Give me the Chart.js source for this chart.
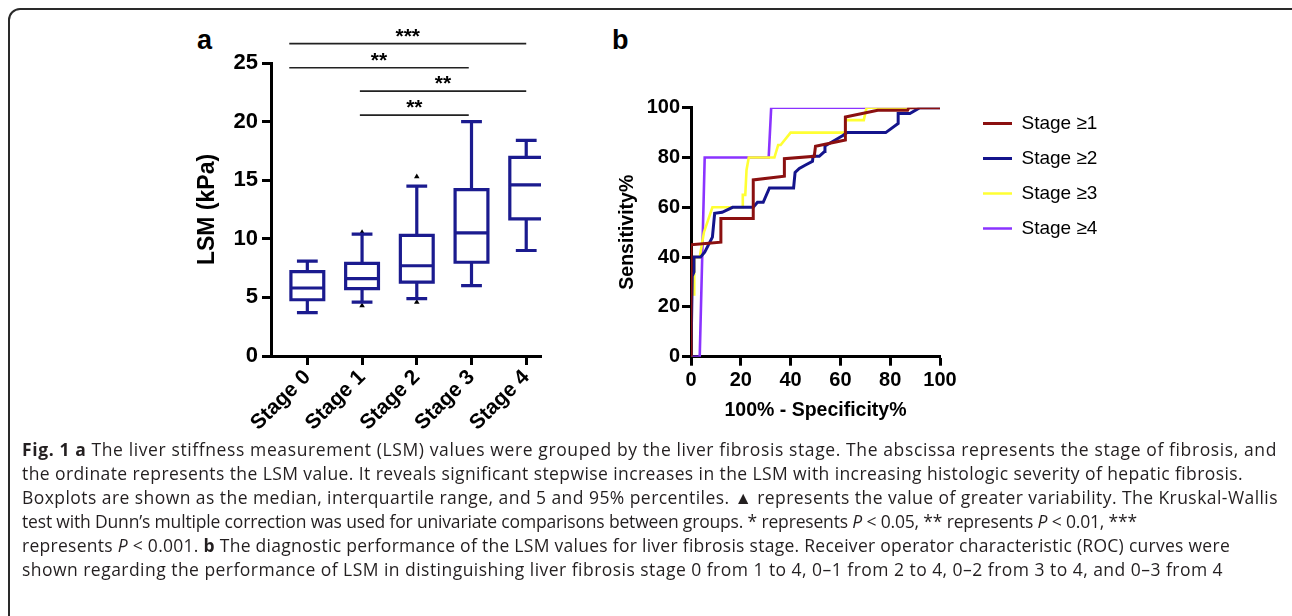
<!DOCTYPE html>
<html>
<head>
<meta charset="utf-8">
<script src="https://cdn.jsdelivr.net/npm/chart.js@4.4.1/dist/chart.umd.min.js"></script>
<style>
  html, body { margin:0; padding:0; background:#fff; width:1292px; height:616px; overflow:hidden; }
  #frame { position:absolute; left:8px; top:8px; width:1300px; height:700px; border:2px solid #2a2a2a; border-radius:12px; box-sizing:border-box; }
  .plabel { position:absolute; font-family:"Liberation Sans", Arial, sans-serif; font-weight:bold; font-size:27px; color:#000; line-height:1; }
  canvas { position:absolute; }
  #caption { position:absolute; left:22px; top:437px; font-family:"Open Sans", sans-serif; font-size:17.5px; line-height:24px; color:#231f20; white-space:nowrap; }
  #caption div { display:block; width:max-content; }
  #caption b { font-weight:700; }
</style>
</head>
<body>
<div id="frame"></div>
<div class="plabel" style="left:197px;top:27px">a</div>
<div class="plabel" style="left:612px;top:27px">b</div>
<canvas id="ca" width="380" height="426" style="left:180px;top:14px;width:380px;height:426px"></canvas>
<canvas id="cb" width="540" height="370" style="left:590px;top:60px;width:540px;height:370px"></canvas>
<div id="caption">
<div data-end="1277"><b>Fig. 1</b> <b>a</b> The liver stiffness measurement (LSM) values were grouped by the liver fibrosis stage. The abscissa represents the stage of fibrosis, and</div>
<div data-end="1243">the ordinate represents the LSM value. It reveals significant stepwise increases in the LSM with increasing histologic severity of hepatic fibrosis.</div>
<div data-end="1278">Boxplots are shown as the median, interquartile range, and 5 and 95% percentiles. ▲ represents the value of greater variability. The Kruskal-Wallis</div>
<div data-end="1137">test with Dunn’s multiple correction was used for univariate comparisons between groups. * represents <i>P</i> &lt; 0.05, ** represents <i>P</i> &lt; 0.01, ***</div>
<div data-end="1230">represents <i>P</i> &lt; 0.001. <b>b</b> The diagnostic performance of the LSM values for liver fibrosis stage. Receiver operator characteristic (ROC) curves were</div>
<div data-end="1223">shown regarding the performance of LSM in distinguishing liver fibrosis stage 0 from 1 to 4, 0–1 from 2 to 4, 0–2 from 3 to 4, and 0–3 from 4</div>
</div>
<script>
// ---------- Panel a data ----------
const stages = ['Stage 0', 'Stage 1', 'Stage 2', 'Stage 3', 'Stage 4'];
const whiskerLow  = [3.7, 4.6, 4.9, 6.0, 9.0];
const q1          = [4.8, 5.75, 6.3, 8.0, 11.7];
const median      = [5.8, 6.6, 7.7, 10.5, 14.6];
const q3          = [7.2, 7.9, 10.3, 14.2, 16.95];
const whiskerHigh = [8.1, 10.4, 14.5, 20.0, 18.4];
const outlierStage = [1, 1, 2, 2];
const outlierValue = [10.55, 4.3, 15.3, 4.6];
const bracketFrom  = [-0.33, -0.33, 0.96, 0.96];
const bracketTo    = [4.0, 2.95, 4.0, 2.95];
const bracketLevel = [26.65, 24.6, 22.6, 20.55];
const bracketStars = ['***', '**', '**', '**'];
const lsmTicks = [0, 5, 10, 15, 20, 25];

// ---------- Panel b data ----------
const rocLabels = ['Stage ≥1', 'Stage ≥2', 'Stage ≥3', 'Stage ≥4'];
const rocColors = ['#8b1010', '#14148c', '#ffff33', '#8a33ff'];
const fpr1 = [0, 0, 12, 12, 25, 25, 37.5, 37.5, 49.5, 50, 62, 62, 75, 87, 87.5, 100];
const tpr1 = [0, 45, 46, 55.5, 55.5, 71, 72.5, 79.5, 80.5, 84.5, 87, 96.3, 99, 99, 100, 100];
const fpr2 = [0, 0.5, 1.2, 1.2, 3.8, 5.5, 8.6, 9.5, 12.5, 16.7, 25, 26.7, 29, 31.5, 41.2, 41.8, 43.5, 46, 48.8, 49, 51.5, 53.6, 53.8, 61, 62.7, 78.2, 83.2, 83.2, 87.9, 91.9, 100];
const tpr2 = [0, 32.4, 34, 40, 40, 42, 48, 57.6, 58, 60, 60, 62, 62, 67.8, 67.8, 74, 75.6, 77, 78.5, 80.5, 80.5, 82.4, 84.6, 88.8, 90, 90, 93.7, 97.7, 97.7, 100, 100];
const fpr3 = [0, 0, 1.3, 1.3, 3.5, 5.2, 8.6, 20.6, 20.8, 21.8, 22.3, 23.2, 33.5, 35, 36, 40, 62, 62, 69.4, 70.5, 100];
const tpr3 = [0, 25, 25, 40, 40, 50, 60, 60, 65, 65, 75, 80, 80, 85, 85, 90, 90, 95, 95, 100, 100];
const fpr4 = [0, 3.5, 5.5, 31.2, 32.2, 100];
const tpr4 = [0, 0, 80, 80, 100, 100];
const rocTicks = [0, 20, 40, 60, 80, 100];

const FONT = '"Liberation Sans", Arial, Helvetica, sans-serif';
Chart.defaults.font.family = FONT;
Chart.defaults.color = '#000';
Chart.defaults.animation = false;

const NAVY = '#1b1b8f';

// caption line fitting (layout only)
document.querySelectorAll('#caption div').forEach(d => {
  const target = +d.dataset.end - 22;
  const w = d.getBoundingClientRect().width;
  const n = d.textContent.length;
  d.style.letterSpacing = ((target - w) / n).toFixed(3) + 'px';
});

// build box-plot line segments (gaps separate pieces)
const boxHalf = 0.3, capHalf = 0.19;
const boxPts = [];
stages.forEach((s, i) => {
  const gap = {x: i, y: null};
  boxPts.push({x: i, y: q1[i]}, {x: i + boxHalf, y: q1[i]}, {x: i + boxHalf, y: q3[i]},
              {x: i - boxHalf, y: q3[i]}, {x: i - boxHalf, y: q1[i]}, {x: i, y: q1[i]}, gap);
  boxPts.push({x: i - boxHalf, y: median[i]}, {x: i + boxHalf, y: median[i]}, gap);
  boxPts.push({x: i, y: q3[i]}, {x: i, y: whiskerHigh[i]}, gap);
  boxPts.push({x: i - capHalf, y: whiskerHigh[i]}, {x: i + capHalf, y: whiskerHigh[i]}, gap);
  boxPts.push({x: i, y: q1[i]}, {x: i, y: whiskerLow[i]}, gap);
  boxPts.push({x: i - capHalf, y: whiskerLow[i]}, {x: i + capHalf, y: whiskerLow[i]}, gap);
});
const outPts = outlierStage.map((s, k) => ({x: s, y: outlierValue[k]}));
const brPts = [];
bracketFrom.forEach((f, k) => {
  brPts.push({x: f, y: bracketLevel[k]}, {x: bracketTo[k], y: bracketLevel[k]}, {x: f, y: null});
});

const starPlugin = {
  id: 'stars',
  afterDatasetsDraw(chart) {
    const ctx = chart.ctx, xs = chart.scales.x, ys = chart.scales.y;
    ctx.save();
    ctx.font = 'bold 21px ' + FONT;
    ctx.fillStyle = '#000';
    ctx.textAlign = 'center';
    ctx.textBaseline = 'alphabetic';
    bracketStars.forEach((t, k) => {
      const x = xs.getPixelForValue((bracketFrom[k] + bracketTo[k]) / 2);
      const y = ys.getPixelForValue(bracketLevel[k]);
      ctx.fillText(t, x, y - 1);
    });
    ctx.restore();
  }
};

const axisCommon = {
  grid: { drawOnChartArea: false, drawTicks: true, tickLength: 9, tickWidth: 3, tickColor: '#000' },
  border: { display: true, width: 3, color: '#000' }
};

new Chart(document.getElementById('ca'), {
  type: 'scatter',
  data: {
    datasets: [
      { data: boxPts, showLine: true, spanGaps: false, borderColor: NAVY, borderWidth: 3.2, pointRadius: 0, borderJoinStyle: 'miter', tension: 0 },
      { data: outPts, pointStyle: 'triangle', pointRadius: 3.2, backgroundColor: '#000', borderWidth: 0 },
      { data: brPts, showLine: true, spanGaps: false, borderColor: '#222', borderWidth: 1.6, pointRadius: 0, clip: false }
    ]
  },
  options: {
    responsive: false,
    layout: { padding: { top: 49, right: 19, left: 0, bottom: 0 } },
    plugins: { legend: { display: false }, tooltip: { enabled: false } },
    scales: {
      x: Object.assign({}, axisCommon, {
        type: 'linear', min: -0.664, max: 4.27,
        afterBuildTicks: (sc) => { sc.ticks = stages.map((s, i) => ({value: i})); },
        afterFit: (sc) => { sc.height = 84; },
        ticks: { autoSkip: false, minRotation: 45, maxRotation: 45, padding: 0,
                 font: { size: 21, weight: 'bold' }, callback: (v) => stages[Math.round(v)] }
      }),
      y: Object.assign({}, axisCommon, {
        min: 0, max: 25,
        afterBuildTicks: (sc) => { sc.ticks = lsmTicks.map(v => ({value: v})); },
        afterFit: (sc) => { sc.width = 91; },
        ticks: { padding: 4, font: { size: 22, weight: 'bold' } },
        title: { display: true, text: 'LSM (kPa)', font: { size: 23, weight: 'bold' }, padding: { top: 14, bottom: 0 } }
      })
    }
  },
  plugins: [starPlugin]
});

const rocSets = [[fpr1, tpr1], [fpr2, tpr2], [fpr3, tpr3], [fpr4, tpr4]];
const legendPlace = {
  id: 'legendPlace',
  afterLayout(chart) {
    const lg = chart.legend;
    const w = lg.width, h = lg.height;
    lg.left = 377; lg.top = 38; lg.right = lg.left + w; lg.bottom = lg.top + h;
  }
};

new Chart(document.getElementById('cb'), {
  type: 'scatter',
  data: {
    datasets: rocSets.map((s, k) => ({
      label: rocLabels[k],
      data: s[0].map((x, j) => ({x: x, y: s[1][j]})),
      showLine: true, borderColor: rocColors[k], backgroundColor: rocColors[k],
      borderWidth: k < 2 ? 3 : 2.6, pointRadius: 0, tension: 0, borderJoinStyle: 'miter'
    }))
  },
  options: {
    responsive: false,
    layout: { padding: { top: 47.7, right: 190, left: 0, bottom: 0 } },
    plugins: {
      tooltip: { enabled: false },
      legend: {
        position: 'chartArea', align: 'start',
        labels: { usePointStyle: true, pointStyle: 'line', pointStyleWidth: 29, boxHeight: 19,
                  padding: 16, font: { size: 19 }, color: '#000' }
      }
    },
    scales: {
      x: Object.assign({}, axisCommon, {
        min: 0, max: 100,
        afterBuildTicks: (sc) => { sc.ticks = rocTicks.map(v => ({value: v})); },
        afterFit: (sc) => { sc.height = 73.3; },
        ticks: { padding: 3, font: { size: 20, weight: 'bold' } },
        title: { display: true, text: '100% - Specificity%', font: { size: 19.5, weight: 'bold' }, padding: { top: 0, bottom: 7.6 } }
      }),
      y: Object.assign({}, axisCommon, {
        min: 0, max: 100,
        afterBuildTicks: (sc) => { sc.ticks = rocTicks.map(v => ({value: v})); },
        afterFit: (sc) => { sc.width = 101; },
        ticks: { padding: 2, font: { size: 20, weight: 'bold' } },
        title: { display: true, text: 'Sensitivity%', font: { size: 19.5, weight: 'bold' }, padding: { top: 25.6, bottom: 0 } }
      })
    }
  },
  plugins: [legendPlace]
});
</script>
</body>
</html>
